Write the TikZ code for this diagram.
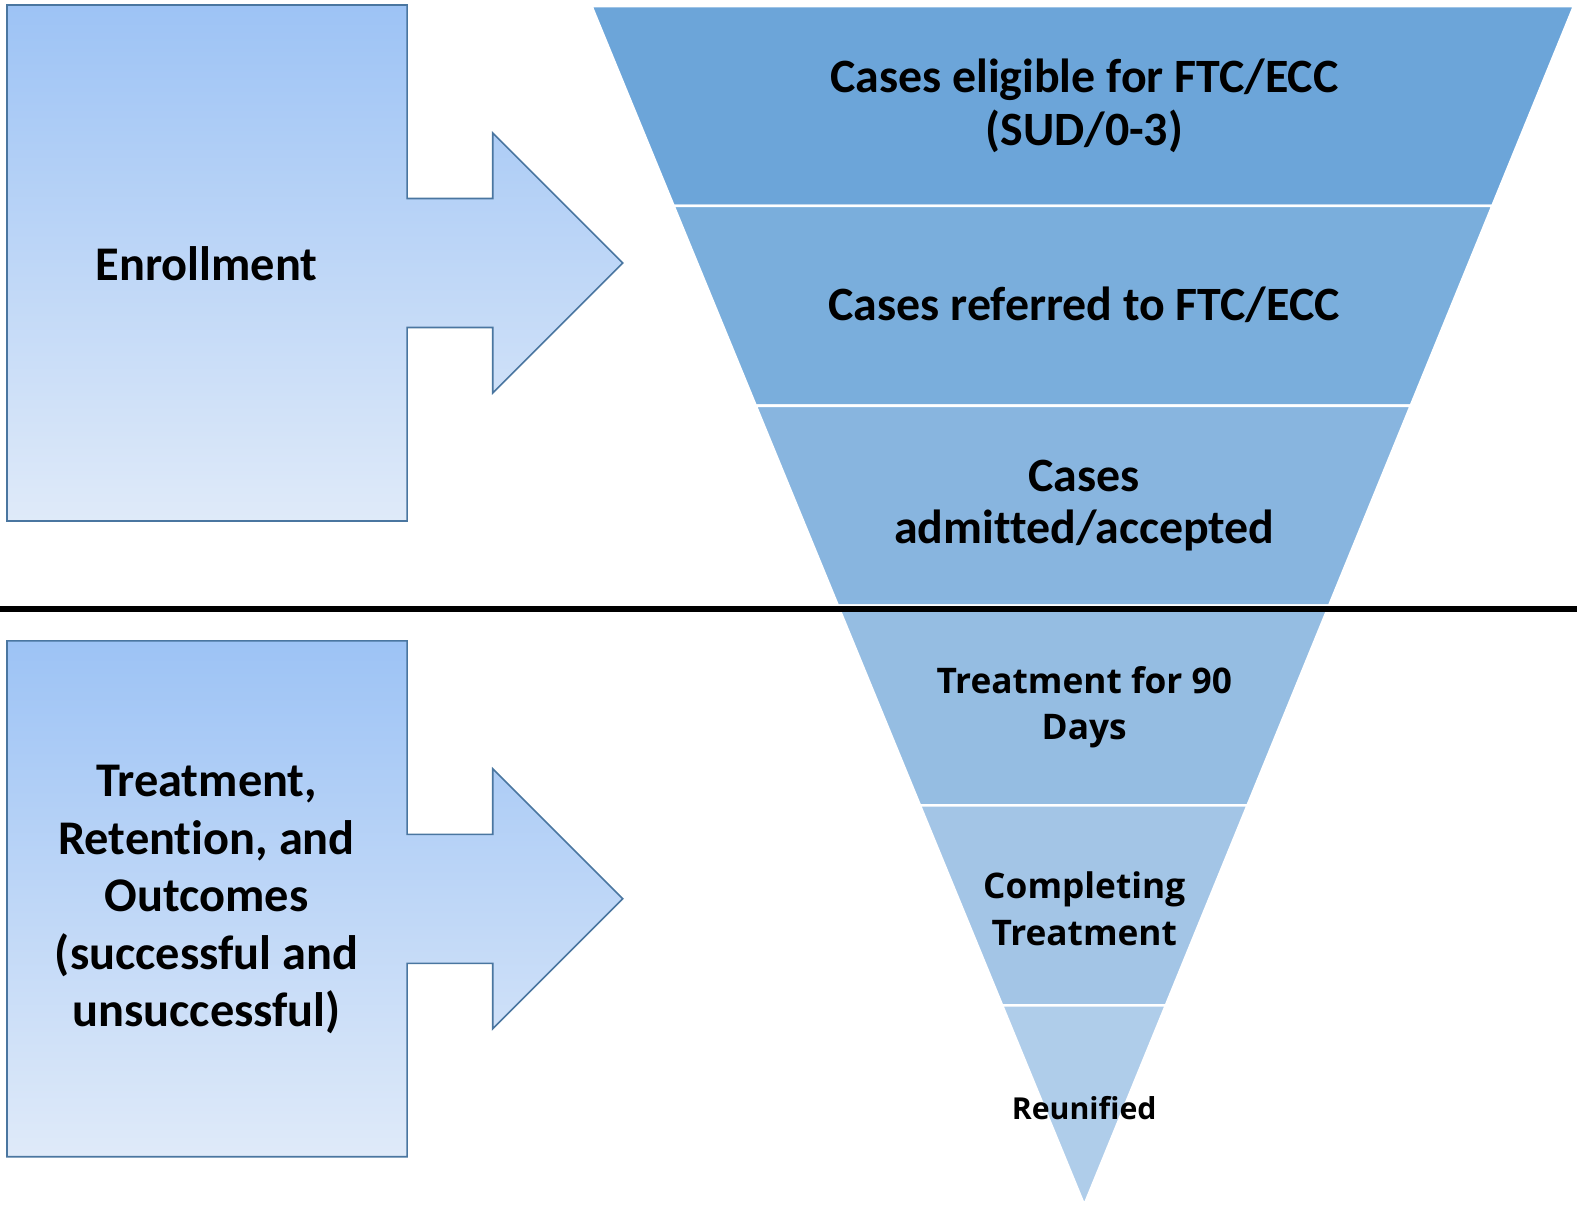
\documentclass[tikz,border=0pt]{standalone}
\usepackage{fontspec}
\setmainfont[Ligatures=NoCommon]{Carlito}
\newfontfamily\opensans{Open Sans}
\usetikzlibrary{calc}
\definecolor{boxtop}{HTML}{9DC3F5}
\definecolor{boxbot}{HTML}{DFEAF9}
\definecolor{boxline}{HTML}{4A76A0}
\definecolor{bandA}{HTML}{6CA5D9}
\definecolor{bandB}{HTML}{7AAEDC}
\definecolor{bandC}{HTML}{88B5DF}
\definecolor{bandD}{HTML}{95BDE2}
\definecolor{bandE}{HTML}{A3C5E6}
\definecolor{bandF}{HTML}{AFCDEA}
\tikzset{
  stagebox/.style={draw=boxline, line width=1.6pt, top color=boxtop, bottom color=boxbot},
  stagetext/.style={align=center, font=\fontsize{48}{57}\selectfont\bfseries},
  bandtext/.style={align=center, font=\fontsize{47.5}{52}\selectfont\bfseries},
  lowtext/.style={align=center, font=\opensans\fontsize{35}{46}\selectfont\bfseries}
}
\begin{document}
\begin{tikzpicture}[x=1pt, y=-1pt]
            \useasboundingbox (0, 0) rectangle (1568, 1196);
            % left boxes with arrows
            \foreach \dy/\nm in {0/top, 631/bot}
            {
            \path [stagebox, yshift=-\dy pt]
            (7, 5) -- (404, 5) -- (404, 197) -- (489, 197) -- (489, 132)
            -- (618, 261) -- (489, 390) -- (489, 325) -- (404, 325)
            -- (404, 517) -- (7, 517) -- cycle;
            }
            % funnel
            \coordinate (fl) at (587, 6);
            \coordinate (fr) at (1562, 6);
            \coordinate (ap) at (1076, 1196);
            \foreach \i/\col in {0/bandA, 1/bandB, 2/bandC, 3/bandD, 4/bandE, 5/bandF}
            {
            \pgfmathsetmacro{\a}{\i/6}
            \pgfmathsetmacro{\b}{(\i+1)/6}
            \fill [\col, draw=white, line width=2.5pt]
            ($(fl)!\a!(ap)$) -- ($(fr)!\a!(ap)$) -- ($(fr)!\b!(ap)$) -- ($(fl)!\b!(ap)$) -- cycle;
            }
            % divider
            \coordinate (dl) at (0, 604);
            \coordinate (dr) at (1565, 604);
            \draw [black, line width=6pt] (dl) -- (dr);
            % labels
            \node [stagetext] (enrol) at (205, 262) {Enrollment};
            \node [stagetext] (treat) at (205, 893) {Treatment,\\Retention, and\\Outcomes\\(successful and\\unsuccessful)};
            \node [bandtext] (elig) at (1076, 105) {Cases eligible for FTC/ECC\\(SUD/0-3)};
            \node [bandtext] (refer) at (1076, 302) {Cases referred to FTC/ECC};
            \node [bandtext] (admit) at (1076, 502) {Cases\\admitted/accepted};
            \node [lowtext] (ninety) at (1076, 702) {Treatment for 90\\Days};
            \node [lowtext] (compl) at (1076, 902) {Completing\\Treatment};
            \node [lowtext, font=\opensans\fontsize{30}{38}\selectfont\bfseries] (reun) at (1076, 1100) {Reunified};
        \end{tikzpicture}
\end{document}
